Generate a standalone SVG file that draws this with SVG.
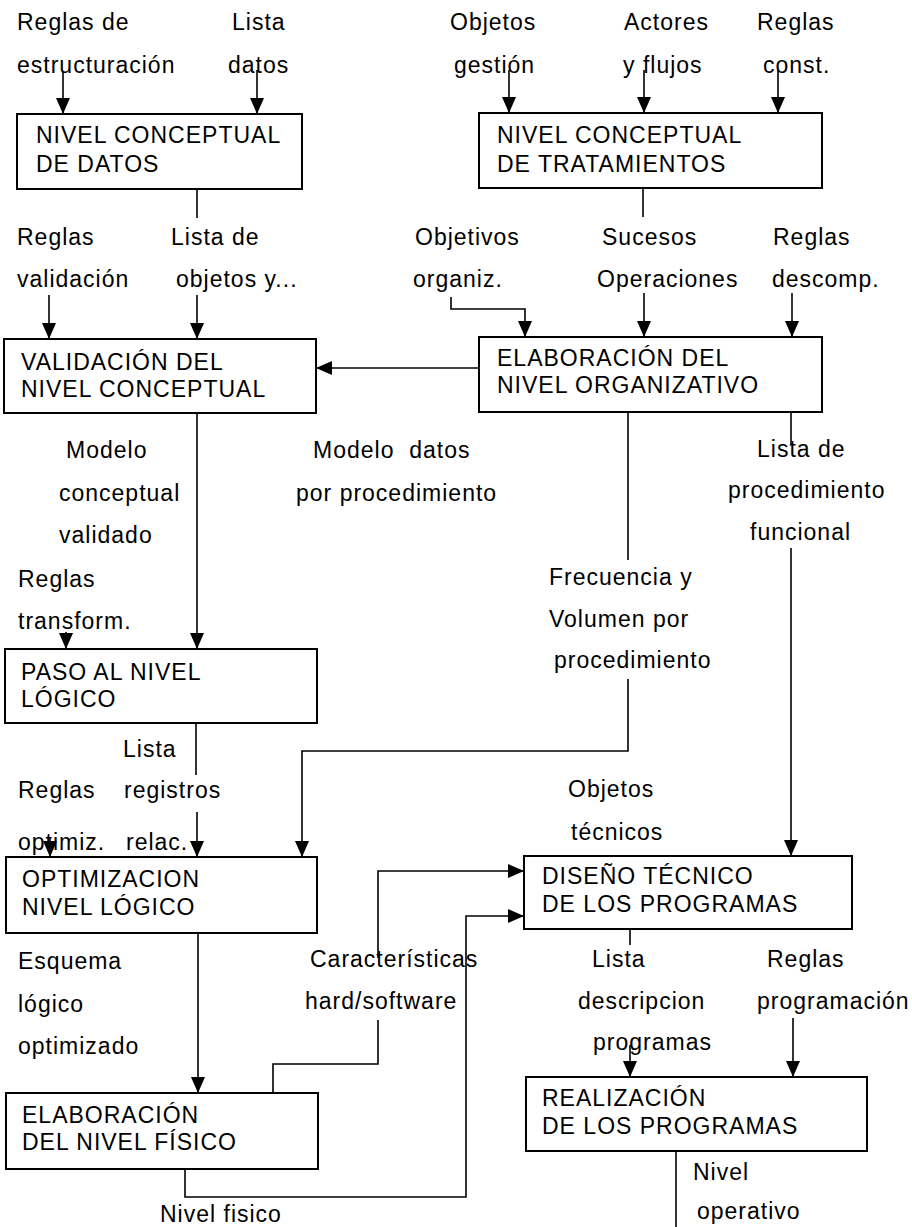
<svg xmlns="http://www.w3.org/2000/svg" width="912" height="1227" viewBox="0 0 912 1227">
<style>
text{font-family:"Liberation Sans",Arial,sans-serif;font-size:23px;letter-spacing:1px;fill:#000;white-space:pre}
.box{fill:#fff;stroke:#000;stroke-width:2}
.ln{fill:none;stroke:#000;stroke-width:1.6}
.ar{fill:none;stroke:#000;stroke-width:1.6;marker-end:url(#ah)}
</style>
<defs>
<marker id="ah" viewBox="0 0 16 14" refX="16" refY="7" markerWidth="16" markerHeight="14" markerUnits="userSpaceOnUse" orient="auto">
<path d="M0,0 L16,7 L0,14 z" fill="#000"/>
</marker>
</defs>
<rect width="912" height="1227" fill="#fff"/>

<g id="connectors">
<line class="ar" x1="63" y1="72" x2="63" y2="114"/>
<line class="ar" x1="257" y1="70" x2="257" y2="114"/>
<line class="ar" x1="509" y1="70" x2="509" y2="113"/>
<line class="ar" x1="644" y1="70" x2="644" y2="113"/>
<line class="ar" x1="778" y1="70" x2="778" y2="113"/>
<line class="ln" x1="197" y1="189" x2="197" y2="218"/>
<line class="ln" x1="643" y1="188" x2="643" y2="217"/>
<line class="ar" x1="49" y1="295" x2="49" y2="339"/>
<line class="ar" x1="197" y1="295" x2="197" y2="339"/>
<path class="ar" d="M451,297 V309 H525 V337"/>
<line class="ar" x1="644" y1="293" x2="644" y2="337"/>
<line class="ar" x1="792" y1="293" x2="792" y2="337"/>
<line class="ar" x1="479" y1="368" x2="316" y2="368"/>
<line class="ar" x1="197" y1="413" x2="197" y2="649"/>
<line class="ar" x1="66" y1="632" x2="66" y2="649"/>
<line class="ln" x1="628" y1="412" x2="628" y2="560"/>
<path class="ar" d="M628,679 V751 H302 V857"/>
<line class="ln" x1="791" y1="412" x2="791" y2="445"/>
<line class="ar" x1="791" y1="548" x2="791" y2="856"/>
<line class="ln" x1="196" y1="724" x2="196" y2="775"/>
<line class="ar" x1="197" y1="812" x2="197" y2="857"/>
<line class="ar" x1="50" y1="838" x2="50" y2="857"/>
<line class="ar" x1="198" y1="933" x2="198" y2="1093"/>
<path class="ln" d="M273,1093 V1064 H378 V1020"/>
<path class="ar" d="M378,958 V871 H524"/>
<path class="ar" d="M185,1169 V1197 H466 V916 H524"/>
<line class="ln" x1="630" y1="929" x2="630" y2="945"/>
<line class="ar" x1="630" y1="1045" x2="630" y2="1077"/>
<line class="ar" x1="793" y1="1018" x2="793" y2="1077"/>
<line class="ln" x1="676" y1="1151" x2="676" y2="1227"/>
</g>

<g id="labels">
<text x="17" y="30">Reglas de</text>
<text x="17" y="73">estructuración</text>
<text x="232" y="30">Lista</text>
<text x="228" y="73">datos</text>
<text x="450" y="30">Objetos</text>
<text x="454" y="73">gestión</text>
<text x="624" y="30">Actores</text>
<text x="623" y="73">y flujos</text>
<text x="757" y="30">Reglas</text>
<text x="763" y="73">const.</text>
<text x="17" y="245">Reglas</text>
<text x="17" y="287">validación</text>
<text x="171" y="245">Lista de</text>
<text x="176" y="287">objetos y...</text>
<text x="415" y="245">Objetivos</text>
<text x="413" y="287">organiz.</text>
<text x="602" y="245">Sucesos</text>
<text x="597" y="287">Operaciones</text>
<text x="773" y="245">Reglas</text>
<text x="772" y="287">descomp.</text>
<text x="66" y="458">Modelo</text>
<text x="59" y="501">conceptual</text>
<text x="59" y="543">validado</text>
<text x="18" y="587">Reglas</text>
<text x="18" y="629">transform.</text>
<text x="313" y="458">Modelo  datos</text>
<text x="296" y="501">por procedimiento</text>
<text x="757" y="457">Lista de</text>
<text x="728" y="498">procedimiento</text>
<text x="750" y="540">funcional</text>
<text x="549" y="585">Frecuencia y</text>
<text x="549" y="627">Volumen por</text>
<text x="554" y="668">procedimiento</text>
<text x="123" y="757">Lista</text>
<text x="18" y="798">Reglas</text>
<text x="124" y="798">registros</text>
<text x="18" y="850">optimiz.</text>
<text x="126" y="850">relac.</text>
<text x="568" y="797">Objetos</text>
<text x="571" y="840">técnicos</text>
<text x="18" y="969">Esquema</text>
<text x="18" y="1012">lógico</text>
<text x="18" y="1054">optimizado</text>
<text x="310" y="967">Características</text>
<text x="305" y="1009">hard/software</text>
<text x="592" y="967">Lista</text>
<text x="578" y="1009">descripcion</text>
<text x="593" y="1050">programas</text>
<text x="767" y="967">Reglas</text>
<text x="757" y="1009">programación</text>
<text x="693" y="1180">Nivel</text>
<text x="697" y="1219">operativo</text>
<text x="160" y="1222">Nivel fisico</text>
</g>

<g id="n-conceptual-datos">
<rect class="box" x="17" y="114" width="285" height="75"/>
<text x="36" y="143">NIVEL CONCEPTUAL</text>
<text x="36" y="172">DE DATOS</text>
</g>
<g id="n-conceptual-tratamientos">
<rect class="box" x="479" y="113" width="343" height="75"/>
<text x="497" y="143">NIVEL CONCEPTUAL</text>
<text x="497" y="172">DE TRATAMIENTOS</text>
</g>
<g id="n-validacion">
<rect class="box" x="4" y="339" width="312" height="74"/>
<text x="21" y="370">VALIDACIÓN DEL</text>
<text x="21" y="397">NIVEL CONCEPTUAL</text>
</g>
<g id="n-organizativo">
<rect class="box" x="479" y="337" width="343" height="75"/>
<text x="497" y="366">ELABORACIÓN DEL</text>
<text x="497" y="393">NIVEL ORGANIZATIVO</text>
</g>
<g id="n-paso-logico">
<rect class="box" x="5" y="649" width="312" height="74"/>
<text x="21" y="680">PASO AL NIVEL</text>
<text x="21" y="707">LÓGICO</text>
</g>
<g id="n-optimizacion">
<rect class="box" x="6" y="857" width="311" height="76"/>
<text x="22" y="887">OPTIMIZACION</text>
<text x="22" y="915">NIVEL LÓGICO</text>
</g>
<g id="n-fisico">
<rect class="box" x="6" y="1093" width="312" height="76"/>
<text x="22" y="1123">ELABORACIÓN</text>
<text x="22" y="1150">DEL NIVEL FÍSICO</text>
</g>
<g id="n-diseno">
<rect class="box" x="524" y="856" width="328" height="73"/>
<text x="542" y="884">DISEÑO TÉCNICO</text>
<text x="542" y="912">DE LOS PROGRAMAS</text>
</g>
<g id="n-realizacion">
<rect class="box" x="526" y="1077" width="341" height="74"/>
<text x="542" y="1106">REALIZACIÓN</text>
<text x="542" y="1134">DE LOS PROGRAMAS</text>
</g>
</svg>
